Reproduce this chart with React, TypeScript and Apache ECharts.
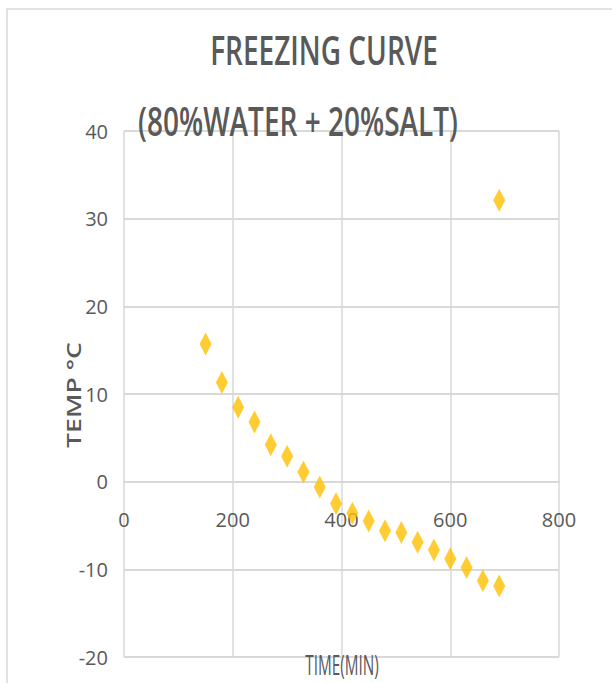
import React, { useEffect, useRef } from "react";
import * as echarts from "echarts";

const titleLine1 = "FREEZING CURVE";
const titleLine2 = "(80%WATER + 20%SALT)";
const xAxisName = "TIME(MIN)";
const yAxisName = "TEMP °C";

const timeMin = [150, 180, 210, 240, 270, 300, 330, 360, 390, 420, 450, 480, 510, 540, 570, 600, 630, 660, 690, 690];
const tempC = [15.7, 11.3, 8.5, 6.8, 4.2, 2.9, 1.1, -0.6, -2.5, -3.6, -4.5, -5.6, -5.8, -6.9, -7.8, -8.8, -9.8, -11.3, -11.9, 32.1];

const xMin = 0, xMax = 800, xStep = 200;
const yMin = -20, yMax = 40, yStep = 10;

const GRAY = "#595959";
const GRID = "#d9d9d9";
const LABEL_FONT = "'Liberation Sans Narrow', 'Open Sans', sans-serif";

const GRID_TOP = 131;
const GRID_BOTTOM = 26;
const CHART_H = 683;

export default function App() {
  const ref = useRef<HTMLDivElement>(null);
  useEffect(() => {
    if (!ref.current) return;
    const chart = echarts.init(ref.current, undefined, { renderer: "svg" });
    const points = timeMin.map((t, i) => [t, tempC[i]]);
    // place the x axis where the value axis crosses zero (Excel-style)
    const plotH = CHART_H - GRID_TOP - GRID_BOTTOM;
    const zeroFromBottom = (plotH * (0 - yMin)) / (yMax - yMin);
    chart.setOption({
      animation: false,
      backgroundColor: "#ffffff",
      grid: { left: 124, right: 53, top: GRID_TOP, bottom: GRID_BOTTOM },
      xAxis: {
        type: "value",
        min: xMin,
        max: xMax,
        interval: xStep,
        position: "bottom",
        offset: -zeroFromBottom,
        axisLine: { show: true, onZero: false, lineStyle: { color: GRID, width: 2 } },
        axisTick: { show: false },
        axisLabel: { color: GRAY, fontSize: 20, fontFamily: LABEL_FONT, margin: 28 },
        splitLine: { show: true, lineStyle: { color: GRID, width: 1.5, type: "solid" } },
      },
      yAxis: {
        type: "value",
        min: yMin,
        max: yMax,
        interval: yStep,
        axisLine: { show: false, onZero: false },
        axisTick: { show: false },
        axisLabel: { color: GRAY, fontSize: 20, fontFamily: LABEL_FONT, margin: 16 },
        splitLine: { show: true, lineStyle: { color: GRID, width: 2, type: "solid" } },
      },
      series: [
        {
          type: "scatter",
          data: points,
          symbol: "diamond",
          symbolSize: [12, 23],
          itemStyle: { color: "#FFC000" },
        },
      ],
      graphic: [
        {
          type: "rect",
          z: -10,
          silent: true,
          shape: { x: 7, y: 9, width: 700, height: 700 },
          style: { fill: "none", stroke: GRID, lineWidth: 1.5 },
        },
        {
          type: "text",
          z: 100,
          x: 324,
          y: 49,
          scaleX: 1,
          scaleY: 1.45,
          style: {
            text: titleLine1,
            fill: GRAY,
            font: "600 28px 'Open Sans', sans-serif",
            textAlign: "center",
            textVerticalAlign: "middle",
          },
        },
        {
          type: "text",
          z: 100,
          x: 298,
          y: 120,
          scaleX: 1,
          scaleY: 1.45,
          style: {
            text: titleLine2,
            fill: GRAY,
            font: "600 28px 'Open Sans', sans-serif",
            textAlign: "center",
            textVerticalAlign: "middle",
          },
        },
        {
          type: "text",
          z: 100,
          x: 342,
          y: 665,
          scaleX: 0.85,
          scaleY: 1.5,
          style: {
            text: xAxisName,
            fill: GRAY,
            font: "18px 'Open Sans', sans-serif",
            textAlign: "center",
            textVerticalAlign: "middle",
          },
        },
        {
          type: "text",
          z: 100,
          x: 73,
          y: 395,
          rotation: Math.PI / 2,
          scaleX: 1.33,
          scaleY: 1,
          style: {
            text: yAxisName,
            fill: GRAY,
            font: "600 20px 'Open Sans', sans-serif",
            textAlign: "center",
            textVerticalAlign: "middle",
          },
        },
      ],
    });
    return () => chart.dispose();
  }, []);
  return (
    <div
      ref={ref}
      style={{ position: "absolute", left: 0, top: 0, width: 612, height: 683 }}
    />
  );
}
